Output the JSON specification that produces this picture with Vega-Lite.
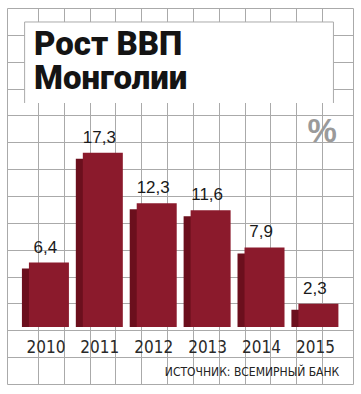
{
  "$schema": "https://vega.github.io/schema/vega-lite/v6.json",
  "width": 346,
  "height": 376,
  "padding": {"left": 7, "top": 8, "right": 8, "bottom": 10},
  "autosize": {"type": "none"},
  "background": "#ffffff",
  "title": {
    "text": ["Рост ВВП", "Монголии"],
    "anchor": "start",
    "frame": "group",
    "orient": "top",
    "offset": 0,
    "dx": 27,
    "dy": 114,
    "baseline": "alphabetic",
    "lineHeight": 34,
    "font": "Roboto",
    "fontSize": 33,
    "fontWeight": 900,
    "color": "#141414",
    "zindex": 2
  },
  "datasets": {
    "gdp": [
      {"year": 2010, "value": 6.4},
      {"year": 2011, "value": 17.3},
      {"year": 2012, "value": 12.3},
      {"year": 2013, "value": 11.6},
      {"year": 2014, "value": 7.9},
      {"year": 2015, "value": 2.3}
    ],
    "notes": [
      {"unit": "%", "source": "ИСТОЧНИК: ВСЕМИРНЫЙ БАНК"}
    ]
  },
  "layer": [
    {
      "data": {"name": "gdp"},
      "mark": {"type": "bar", "orient": "vertical", "width": 40, "color": "#6b0f1d", "xOffset": -7, "yOffset": 6},
      "encoding": {
        "x": {
          "field": "year",
          "type": "quantitative",
          "scale": {"domain": [2009.315, 2015.549], "nice": false, "zero": false},
          "axis": {
            "values": [2009.7946, 2010.2741, 2010.7537, 2011.2332, 2011.7128, 2012.1923, 2012.6719, 2013.1514, 2013.631, 2014.1105, 2014.5901, 2015.0696],
            "tickCount": 40,
            "grid": true, "labels": false, "ticks": false, "domain": false, "title": null,
            "gridColor": "#aaaaaa", "gridOpacity": 1, "gridWidth": 1
          }
        },
        "y": {
          "field": "value",
          "type": "quantitative",
          "scale": {"domain": [-5.66, 31.68], "nice": false, "zero": false},
          "axis": {
            "values": [29.013, 26.346, 23.679, 21.012, 18.345, 15.678, 13.01, 10.343, 7.676, 5.009, 2.342, -0.325, -2.992],
            "tickCount": 40,
            "grid": true, "labels": false, "ticks": false, "domain": false, "title": null,
            "gridColor": "#aaaaaa", "gridOpacity": 1, "gridWidth": 1
          }
        },
        "y2": {"datum": 0}
      }
    },
    {
      "data": {"name": "gdp"},
      "mark": {"type": "bar", "orient": "vertical", "width": 40, "color": "#8b1a2c"},
      "encoding": {
        "x": {"field": "year", "type": "quantitative"},
        "y": {"field": "value", "type": "quantitative"},
        "y2": {"datum": 0}
      }
    },
    {
      "data": {"name": "gdp"},
      "mark": {"type": "text", "dx": -3.5, "dy": -10, "baseline": "alphabetic", "align": "center", "font": "Liberation Sans", "fontSize": 17, "fill": "#1a1a1a"},
      "encoding": {
        "x": {"field": "year", "type": "quantitative"},
        "y": {"field": "value", "type": "quantitative"},
        "text": {"field": "value", "type": "quantitative", "format": ".1f"}
      }
    },
    {
      "data": {"name": "gdp"},
      "mark": {"type": "text", "dx": -3, "dy": 26, "baseline": "alphabetic", "align": "center", "font": "DejaVu Sans Condensed, Roboto", "fontSize": 17, "fill": "#2a2a2a"},
      "encoding": {
        "x": {"field": "year", "type": "quantitative"},
        "y": {"datum": 0, "type": "quantitative"},
        "text": {"field": "year", "type": "nominal"}
      }
    },
    {
      "data": {"name": "notes"},
      "mark": {"type": "rect", "fill": "#ffffff"},
      "encoding": {
        "x": {"datum": 2009.549, "type": "quantitative"},
        "x2": {"datum": 2015.279},
        "y": {"datum": 30.29, "type": "quantitative"},
        "y2": {"datum": 22.246}
      }
    },
    {
      "data": {"name": "notes"},
      "mark": {"type": "rule", "stroke": "#aaaaaa", "strokeWidth": 1},
      "encoding": {
        "x": {"datum": 2009.549, "type": "quantitative"},
        "y": {"datum": 30.29, "type": "quantitative"},
        "y2": {"datum": 22.246}
      }
    },
    {
      "data": {"name": "notes"},
      "mark": {"type": "rule", "stroke": "#aaaaaa", "strokeWidth": 1},
      "encoding": {
        "x": {"datum": 2015.279, "type": "quantitative"},
        "y": {"datum": 30.29, "type": "quantitative"},
        "y2": {"datum": 22.246}
      }
    },
    {
      "data": {"name": "notes"},
      "mark": {"type": "rule", "stroke": "#aaaaaa", "strokeWidth": 1},
      "encoding": {
        "x": {"datum": 2009.549, "type": "quantitative"},
        "x2": {"datum": 2015.279},
        "y": {"datum": 30.29, "type": "quantitative"}
      }
    },
    {
      "data": {"name": "notes"},
      "mark": {"type": "text", "align": "center", "baseline": "alphabetic", "font": "Liberation Sans", "fontSize": 33, "fontWeight": "bold", "fill": "#9a9a9a"},
      "encoding": {
        "x": {"datum": 2015.072, "type": "quantitative"},
        "y": {"datum": 18.37, "type": "quantitative"},
        "text": {"field": "unit", "type": "nominal"}
      }
    },
    {
      "data": {"name": "notes"},
      "mark": {"type": "text", "align": "right", "baseline": "alphabetic", "font": "DejaVu Sans Condensed, Roboto", "fontSize": 12, "fill": "#222222"},
      "encoding": {
        "x": {"datum": 2015.387, "type": "quantitative"},
        "y": {"datum": -4.86, "type": "quantitative"},
        "text": {"field": "source", "type": "nominal"}
      }
    }
  ],
  "config": {
    "view": {"stroke": "#aaaaaa", "strokeWidth": 1},
    "locale": {"number": {"decimal": ",", "thousands": " ", "grouping": [3], "currency": ["", ""]}}
  }
}
